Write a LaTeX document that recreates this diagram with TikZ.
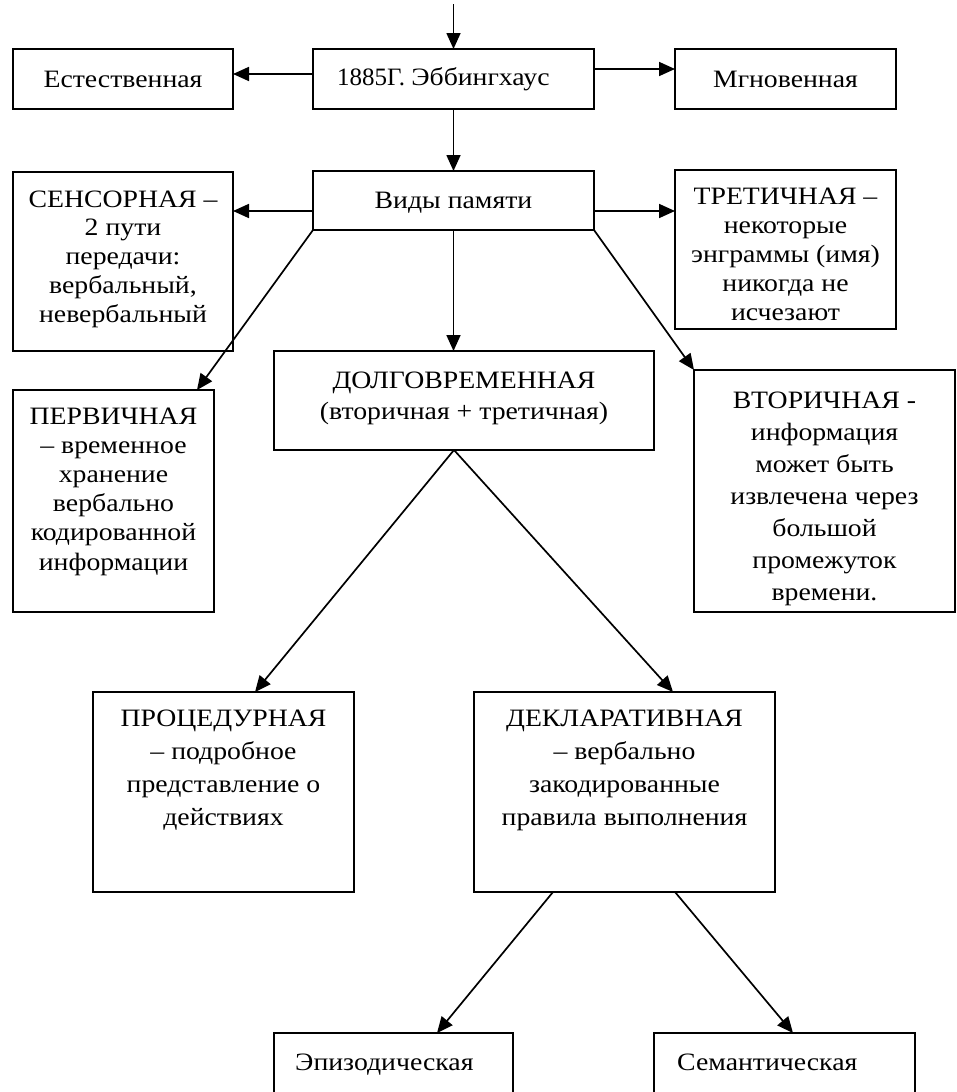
\documentclass[tikz,border=0pt]{standalone}
\usepackage{fontspec}
\setmainfont{Liberation Serif}[FakeStretch=1.11]
\newfontfamily\numfont{Liberation Serif}
\usetikzlibrary{arrows.meta}
\begin{document}
\begin{tikzpicture}[x=1pt,y=-1pt,
  box/.style={draw, line width=1.7pt, inner sep=0pt, outer sep=0pt},
  arr/.style={line width=1.7pt, -{Triangle[length=16pt,width=14pt]}},
  lbl/.style={anchor=base, inner sep=0pt, align=center, font=\fontsize{25}{29}\selectfont},
]
\useasboundingbox (0,0) rectangle (956,1092);
\clip (0,0) rectangle (956,1092);
% boxes
\node[box, minimum width=220pt, minimum height=60pt] (ext) at (123,79) {};
\node[box, minimum width=281pt, minimum height=60pt] (ebb) at (453.5,79) {};
\node[box, minimum width=221pt, minimum height=60pt] (mgn) at (785.5,79) {};
\node[box, minimum width=281pt, minimum height=59pt] (vid) at (453.5,200.5) {};
\node[box, minimum width=220pt, minimum height=179pt] (sens) at (123,261.5) {};
\node[box, minimum width=221pt, minimum height=159pt] (tret) at (785.5,249.5) {};
\node[box, minimum width=380pt, minimum height=99pt] (dolg) at (464,400.5) {};
\node[box, minimum width=201pt, minimum height=222pt] (perv) at (113.5,501) {};
\node[box, minimum width=261pt, minimum height=242pt] (vtor) at (824.5,491) {};
\node[box, minimum width=261pt, minimum height=200pt] (proc) at (223.5,792) {};
\node[box, minimum width=301pt, minimum height=200pt] (dekl) at (624.5,792) {};
\node[box, minimum width=239pt, minimum height=100pt] (epi) at (393.5,1083) {};
\node[box, minimum width=261pt, minimum height=100pt] (sem) at (784.5,1083) {};
\coordinate (top) at (453.5,4);
% texts
\node[lbl] at (123,87) {Естественная};
\node[lbl, anchor=base west] at (337,85) {{\numfont 1885Г. }Эббингхаус};
\node[lbl] at (785.5,87) {Мгновенная};
\node[lbl] at (453.5,208) {Виды памяти};
\node[lbl, font=\fontsize{25}{28.7}\selectfont] at (123,322) {СЕНСОРНАЯ –\\2 пути\\передачи:\\вербальный,\\невербальный};
\node[lbl, font=\fontsize{25}{29}\selectfont] at (785.5,320) {ТРЕТИЧНАЯ –\\некоторые\\энграммы (имя)\\никогда не\\исчезают};
\node[lbl, font=\fontsize{25}{31}\selectfont] at (464,419) {ДОЛГОВРЕМЕННАЯ\\(вторичная + третичная)};
\node[lbl, font=\fontsize{25}{29.2}\selectfont] at (113.5,570) {ПЕРВИЧНАЯ\\– временное\\хранение\\вербально\\кодированной\\информации};
\node[lbl, font=\fontsize{25}{32}\selectfont] at (824.5,600) {ВТОРИЧНАЯ -\\информация\\может быть\\извлечена через\\большой\\промежуток\\времени.};
\node[lbl, font=\fontsize{25}{32.7}\selectfont] at (223.5,825) {ПРОЦЕДУРНАЯ\\– подробное\\представление о\\действиях};
\node[lbl, font=\fontsize{25}{32.7}\selectfont] at (624.5,825) {ДЕКЛАРАТИВНАЯ\\– вербально\\закодированные\\правила выполнения};
\node[lbl, anchor=base west] at (295,1070) {Эпизодическая};
\node[lbl, anchor=base west] at (677,1070) {Семантическая};
% connectors
\draw[arr] (top) -- (ebb.north);
\draw[arr] ([yshift=5pt]ebb.west) -- ([yshift=5pt]ext.east);
\draw[arr] ([yshift=10pt]ebb.east) -- ([yshift=10pt]mgn.west);
\draw[arr] (ebb.south) -- (vid.north);
\draw[arr] ([yshift=-10.5pt]vid.west) -- ([yshift=-10.5pt]sens.east |- vid.west);
\draw[arr] ([yshift=-10.5pt]vid.east) -- ([yshift=-10.5pt]tret.west |- vid.east);
\draw[arr] (vid.south) -- (vid.south |- dolg.north);
\draw[arr] (vid.south west) -- ([xshift=-17pt]perv.north east);
\draw[arr] (vid.south east) -- (vtor.north west);
\draw[arr] ([xshift=-10pt]dolg.south) -- ([xshift=31.5pt]proc.north);
\draw[arr] ([xshift=-10pt]dolg.south) -- ([xshift=48.5pt]dekl.north);
\draw[arr] ([xshift=-71.5pt]dekl.south) -- ([xshift=43.5pt]epi.north);
\draw[arr] ([xshift=50.5pt]dekl.south) -- ([xshift=8.5pt]sem.north);
\end{tikzpicture}
\end{document}
